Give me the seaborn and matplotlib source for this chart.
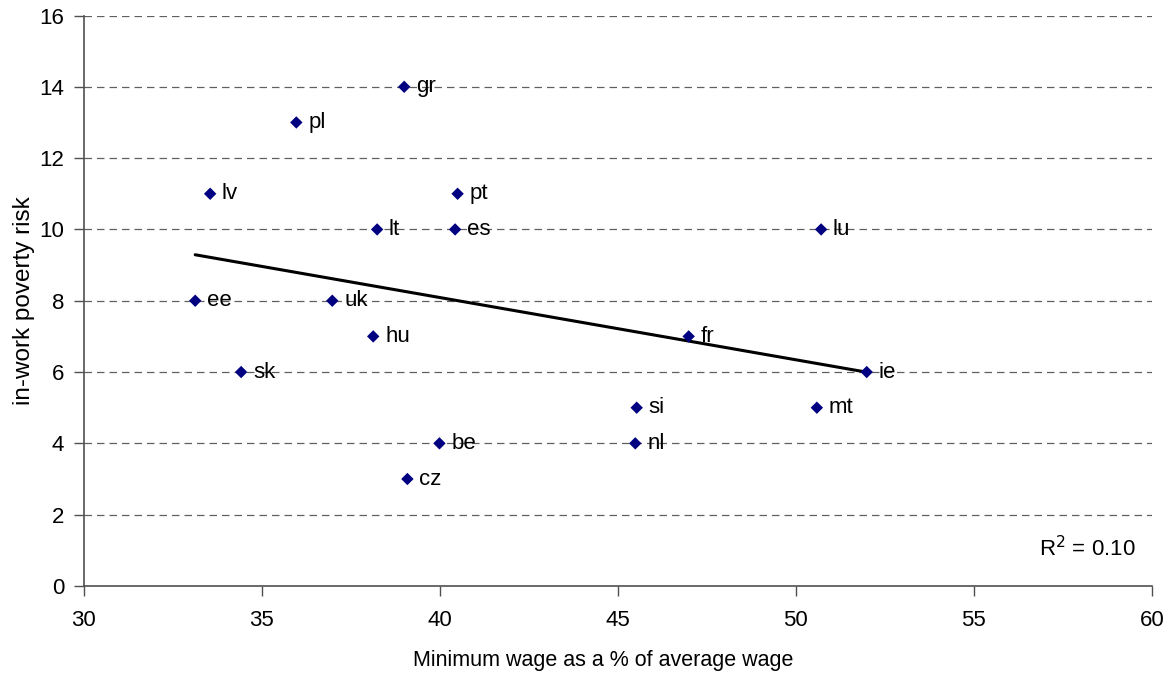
import numpy as np
import pandas as pd
import seaborn as sns
import matplotlib.pyplot as plt

# datos
paises = ["gr", "pl", "lv", "pt", "lt", "es", "lu", "ee", "uk",
          "hu", "fr", "sk", "ie", "si", "mt", "be", "nl", "cz"]
salario_min = [39.0, 35.97, 33.55, 40.5, 38.24, 40.43, 50.71, 33.13, 36.98,
               38.13, 46.99, 34.42, 51.99, 45.53, 50.59, 39.99, 45.49, 39.09]
riesgo_pobreza = [14, 13, 11, 11, 10, 10, 10, 8, 8,
                  7, 7, 6, 6, 5, 5, 4, 4, 3]
y_ticks = [0, 2, 4, 6, 8, 10, 12, 14, 16]
x_ticks = [30, 35, 40, 45, 50, 55, 60]

df = pd.DataFrame({"pais": paises, "x": salario_min, "y": riesgo_pobreza})

sns.set_theme(style="white")
plt.rcParams["font.family"] = ["Liberation Sans", "DejaVu Sans"]
plt.rcParams["text.color"] = "black"
plt.rcParams["axes.labelcolor"] = "black"
plt.rcParams["xtick.labelcolor"] = "black"
plt.rcParams["ytick.labelcolor"] = "black"

fig = plt.figure(figsize=(11.73, 6.74), dpi=100)
ax = fig.add_axes([0.0714, 0.1306, 0.9106, 0.8464])

# rejilla discontinua
for yv in y_ticks[1:]:
    ax.axhline(yv, color="#606060", linestyle=(0, (6, 4)), linewidth=0.9, zorder=0)

# recta de regresión (MCO)
pend, ord_origen = np.polyfit(df["x"], df["y"], 1)
xs = np.array([df["x"].min(), df["x"].max()])
ax.plot(xs, pend * xs + ord_origen, color="black", linewidth=2.2, zorder=2)

sns.scatterplot(data=df, x="x", y="y", marker="D", color="#000080",
                s=40, edgecolor="none", ax=ax, zorder=3)

for _, fila in df.iterrows():
    ax.annotate(fila["pais"], (fila["x"], fila["y"]), xytext=(8.5, 0),
                textcoords="offset points", va="center", ha="left",
                fontsize=16, color="black")

ax.text(0.985, 0.065, "R$^2$ = 0.10", transform=ax.transAxes,
        ha="right", va="center", fontsize=16)

ax.set_xlim(30, 60)
ax.set_ylim(0, 16)
ax.set_xticks(x_ticks)
ax.set_yticks(y_ticks)
ax.tick_params(axis="both", labelsize=16, direction="out", length=7,
               width=1, color="#505050", bottom=True, left=True)
ax.tick_params(axis="x", pad=10)
ax.tick_params(axis="y", pad=7)
for lado in ["top", "right"]:
    ax.spines[lado].set_visible(False)
for lado in ["left", "bottom"]:
    ax.spines[lado].set_color("#505050")
    ax.spines[lado].set_linewidth(1.2)

ax.set_xlabel("Minimum wage as a % of average wage", fontsize=15.5)
ax.set_ylabel("in-work poverty risk", fontsize=17.5, labelpad=3)
ax.xaxis.set_label_coords(0.486, -0.113)

plt.savefig("out.png", dpi=100)
